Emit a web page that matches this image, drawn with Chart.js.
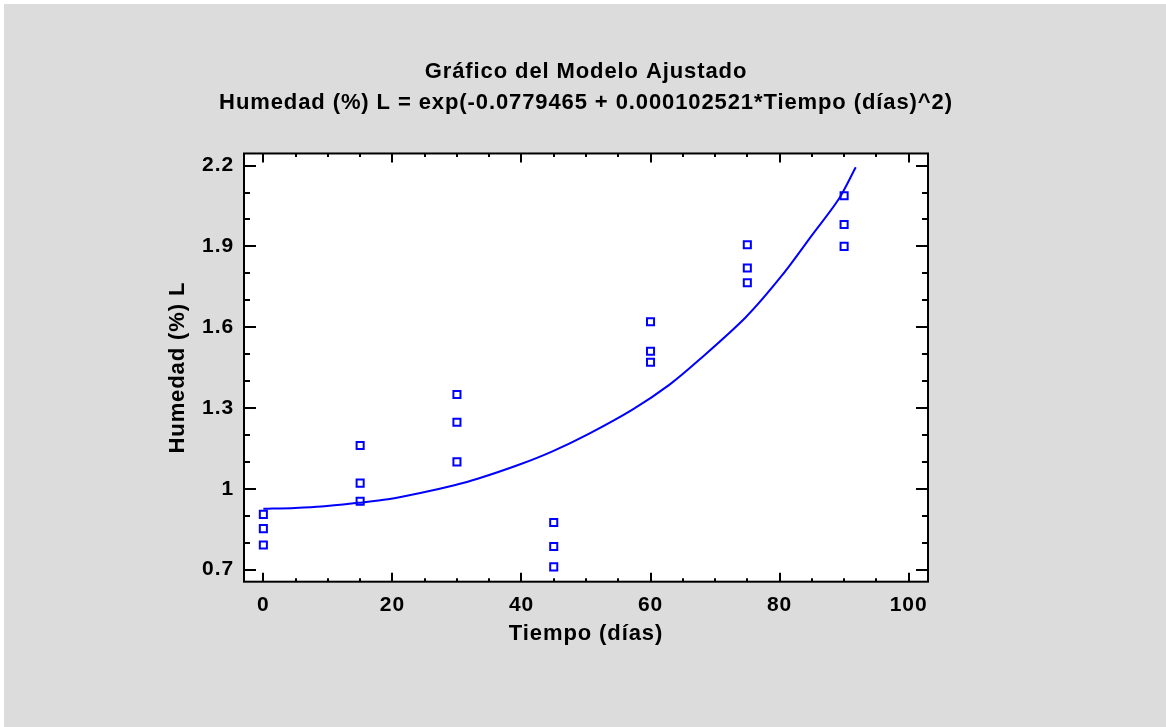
<!DOCTYPE html>
<html>
<head>
<meta charset="utf-8">
<title>Gráfico del Modelo Ajustado</title>
<script src="https://cdn.jsdelivr.net/npm/chart.js@4/dist/chart.umd.min.js"></script>
<style>
  body { margin: 0; background: #ffffff; }
  #wrap { position: absolute; left: 4px; top: 4px; width: 1162px; height: 723px; background: #dcdcdc; }
</style>
</head>
<body>
<div id="wrap"><canvas id="fitChart" width="1162" height="723"></canvas></div>
<script>
// observed values, three replicates per time
var tiempo = [0, 15, 30, 45, 60, 75, 90];
var rep1 = [0.905, 1.161, 1.350, 0.875, 1.620, 1.906, 2.088];
var rep2 = [0.852, 1.021, 1.247, 0.786, 1.511, 1.820, 1.981];
var rep3 = [0.791, 0.954, 1.100, 0.710, 1.470, 1.765, 1.900];

// fitted curve
var curveX = [0, 4.9, 9, 14.7, 19.3, 24.5, 29.6, 33.2, 39.7, 44.8, 50.5, 57.2, 62.9, 67.5, 74.8, 80.4, 85, 89.2, 91.8];
var curveY = [0.926, 0.929, 0.934, 0.948, 0.961, 0.985, 1.013, 1.037, 1.090, 1.139, 1.205, 1.294, 1.386, 1.478, 1.638, 1.793, 1.941, 2.077, 2.194];

var xTicks = [0, 20, 40, 60, 80, 100];
var yTicks = [0.7, 1, 1.3, 1.6, 1.9, 2.2];

var titleLines = [
  'Gráfico del Modelo Ajustado',
  'Humedad (%) L = exp(-0.0779465 + 0.000102521*Tiempo (días)^2)'
];

var pts = [];
for (var i = 0; i < tiempo.length; i++) {
  pts.push({x: tiempo[i], y: rep1[i]});
  pts.push({x: tiempo[i], y: rep2[i]});
  pts.push({x: tiempo[i], y: rep3[i]});
}
var curve = curveX.map(function(v, i) { return {x: v, y: curveY[i]}; });

var FONT = '"Liberation Sans", Arial, sans-serif';
var SPACING = '0.9px';

// white plot box, black frame and inward ticks on all four sides
var framePlugin = {
  id: 'frame',
  beforeLayout: function(chart) { chart.ctx.letterSpacing = SPACING; },
  beforeDraw: function(chart) {
    var ctx = chart.ctx, a = chart.chartArea;
    ctx.letterSpacing = SPACING;
    ctx.fillStyle = '#ffffff';
    ctx.fillRect(a.left, a.top, a.right - a.left, a.bottom - a.top);
  },
  afterDraw: function(chart) {
    var ctx = chart.ctx, a = chart.chartArea;
    var x = chart.scales.x, y = chart.scales.y;
    ctx.save();
    ctx.strokeStyle = '#000000';
    ctx.lineWidth = 2;
    ctx.beginPath();
    for (var k = 0; k <= 20; k++) {
      var v = k * 5;
      var px = Math.round(x.getPixelForValue(v));
      var len = (v % 20 === 0) ? 9 : 3.5;
      ctx.moveTo(px, a.bottom); ctx.lineTo(px, a.bottom - len);
      ctx.moveTo(px, a.top); ctx.lineTo(px, a.top + len);
    }
    for (var m = 7; m <= 22; m++) {
      var py = Math.round(y.getPixelForValue(m / 10));
      var l2 = ((m - 7) % 3 === 0) ? 12 : 6;
      ctx.moveTo(a.left, py); ctx.lineTo(a.left + l2, py);
      ctx.moveTo(a.right, py); ctx.lineTo(a.right - l2, py);
    }
    ctx.stroke();
    ctx.strokeRect(a.left, a.top, a.right - a.left, a.bottom - a.top);
    ctx.restore();
  }
};

var ctx = document.getElementById('fitChart');
var chart = new Chart(ctx, {
  type: 'scatter',
  data: {
    datasets: [{
      label: 'Observado',
      data: pts,
      pointStyle: 'rect',
      pointRadius: 5,
      pointBorderWidth: 2,
      pointBorderColor: '#0000ff',
      pointBackgroundColor: 'rgba(0,0,0,0)',
      showLine: false
    }, {
      label: 'Modelo',
      data: curve,
      showLine: true,
      borderColor: '#0000ff',
      borderWidth: 2,
      pointRadius: 0,
      tension: 0.3,
      fill: false
    }]
  },
  options: {
    responsive: false,
    animation: false,
    layout: { padding: { left: 150, right: 148, top: 0, bottom: 65.3 } },
    plugins: {
      legend: { display: false },
      tooltip: { enabled: false },
      title: {
        display: true,
        text: titleLines,
        color: '#000000',
        font: { family: FONT, size: 22, weight: 'bold', lineHeight: 1.42 },
        padding: { top: 52.4, bottom: 34.6 }
      }
    },
    scales: {
      x: {
        type: 'linear',
        min: -3,
        max: 103,
        afterBuildTicks: function(axis) { axis.ticks = xTicks.map(function(v) { return {value: v}; }); },
        afterFit: function(axis) { axis.height = 80; },
        grid: { display: false, drawTicks: false },
        border: { display: false },
        ticks: {
          padding: 11,
          color: '#000000',
          font: { family: FONT, size: 21, weight: 'bold' },
          callback: function(v) { return String(v); }
        },
        title: {
          display: true,
          text: 'Tiempo (días)',
          color: '#000000',
          font: { family: FONT, size: 22, weight: 'bold' },
          padding: { top: 0, bottom: 14.5 }
        }
      },
      y: {
        type: 'linear',
        min: 0.655,
        max: 2.245,
        afterBuildTicks: function(axis) { axis.ticks = yTicks.map(function(v) { return {value: v}; }); },
        afterFit: function(axis) { axis.width = 90; },
        grid: { display: false, drawTicks: false },
        border: { display: false },
        ticks: {
          padding: 10,
          color: '#000000',
          font: { family: FONT, size: 21, weight: 'bold' },
          callback: function(v) { return String(v); }
        },
        title: {
          display: true,
          text: 'Humedad (%) L',
          color: '#000000',
          font: { family: FONT, size: 22, weight: 'bold' },
          padding: { top: 10.8, bottom: 0 }
        }
      },
      // empty right-hand axis, keeps the plot and title on the same centre line
      yRight: {
        type: 'linear',
        position: 'right',
        display: true,
        min: 0.655,
        max: 2.245,
        afterFit: function(axis) { axis.width = 90; },
        grid: { display: false, drawTicks: false },
        border: { display: false },
        ticks: { display: false }
      }
    }
  },
  plugins: [framePlugin]
});
</script>
</body>
</html>
